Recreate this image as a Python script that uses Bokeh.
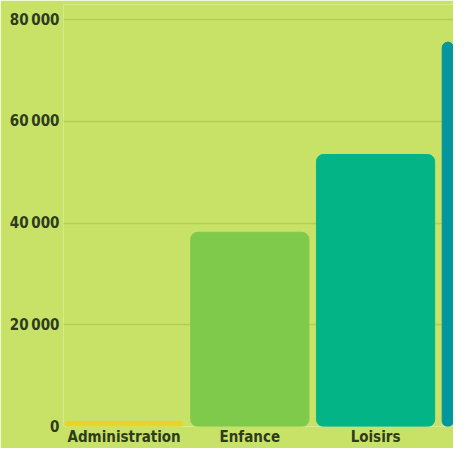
from bokeh.plotting import figure
from bokeh.models import Range1d, FixedTicker, ColumnDataSource, CustomJSTickFormatter
from bokeh.embed import file_html
from bokeh.resources import INLINE

categories = ["Administration", "Enfance", "Loisirs", "Culture"]
values = [1000, 38200, 53500, 75600]
colors = ["#e6d52c", "#7fca4b", "#03b586", "#03969c"]
y_ticks = [0, 20000, 40000, 60000, 80000]

FONT = "DejaVu Sans Condensed"
TXT = "#2e3b1c"
BG = "#c8e268"

src = ColumnDataSource(dict(x=list(range(len(categories))), top=values, color=colors, cat=categories))

p = figure(width=453, height=448, output_backend="svg", toolbar_location=None,
           x_range=Range1d(-0.482, 2.62), y_range=Range1d(0, 83000),
           min_border_left=63, min_border_right=0, min_border_top=4, min_border_bottom=20)
p.background_fill_color = BG
p.border_fill_color = BG
p.outline_line_color = None

p.vbar(x="x", top="top", width=0.94, color="color", source=src, border_radius=7)

p.xgrid.grid_line_color = None
p.ygrid.grid_line_color = "#b4ce52"
p.ygrid.grid_line_width = 1.3
p.ygrid.ticker = FixedTicker(ticks=y_ticks)

p.yaxis.ticker = FixedTicker(ticks=y_ticks)
p.yaxis.formatter = CustomJSTickFormatter(code="return tick == 0 ? '0' : (tick/1000).toFixed(0) + '\u2009000';")
p.xaxis.ticker = FixedTicker(ticks=list(range(len(categories))))
p.xaxis.major_label_overrides = {i: c for i, c in enumerate(categories)}

for ax in (p.xaxis, p.yaxis):
    ax.axis_line_color = None
    ax.major_tick_line_color = None
    ax.minor_tick_line_color = None
    ax.major_tick_out = 0
    ax.major_tick_in = 0
    ax.minor_tick_out = 0
    ax.major_label_text_font = FONT
    ax.major_label_text_font_style = "bold"
    ax.major_label_text_color = TXT
    ax.major_label_text_font_size = "15px"
p.yaxis.major_label_standoff = 4
p.xaxis.major_label_standoff = 1

open("out.html", "w").write(file_html(p, INLINE))
